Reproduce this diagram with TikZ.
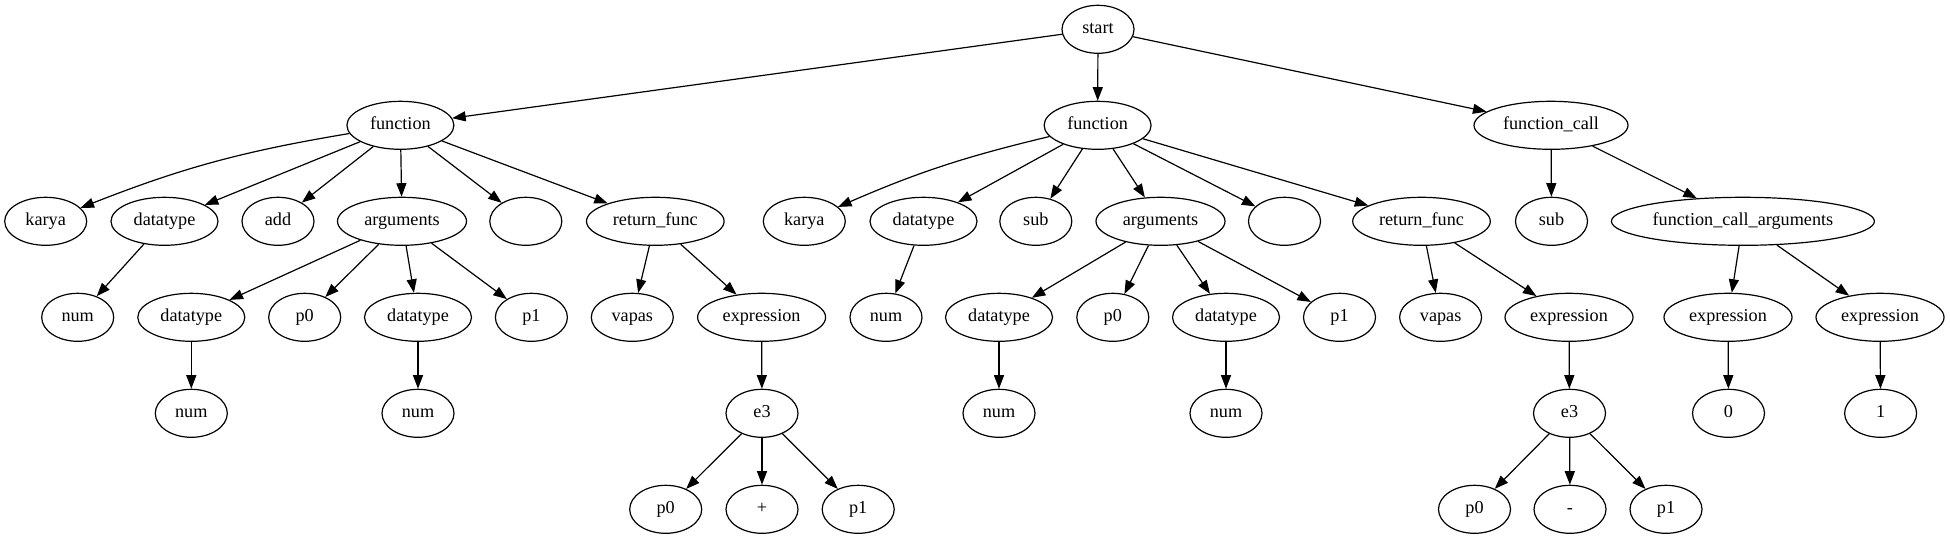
\documentclass[tikz,border=0pt]{standalone}
\usepackage{fontspec}
\setmainfont{Liberation Serif}
\usetikzlibrary{arrows.meta,shapes.geometric}
\begin{document}
\begin{tikzpicture}[x=1pt,y=-1pt,
  nd/.style={draw,ellipse,line width=1.2pt,inner sep=0pt,minimum height=48pt,minimum width=72pt,
    font=\fontsize{18.2}{20}\selectfont,text height=12.6pt,text depth=4.5pt},
  w/.style={minimum width=#1pt},
  ed/.style={draw,line width=1.2pt,-{Triangle[length=13.5pt,width=10pt]}},
  every path/.style={}]
\useasboundingbox (0,0) rectangle (1950,539);
% rows
\def\ra{29.3}\def\rb{125.3}\def\rc{221.3}\def\rd{317.3}\def\re{413.3}\def\rf{509.3}
% row 0
\node[nd] (start) at (1098,\ra) {start};
% row 1
\node[nd,w=107] (f1) at (400.4,\rb) {function};
\node[nd,w=107] (f2) at (1097.6,\rb) {function};
\node[nd,w=154] (fc) at (1551,\rb) {function\_call};
% row 2
\node[nd,w=82] (ka1) at (45.7,\rc) {karya};
\node[nd,w=107] (dt1) at (164.5,\rc) {datatype};
\node[nd] (add) at (278,\rc) {add};
\node[nd,w=129] (ar1) at (402,\rc) {arguments};
\node[nd] (em1) at (525.8,\rc) {};
\node[nd,w=137.6] (rf1) at (655.3,\rc) {return\_func};
\node[nd,w=82] (ka2) at (804.3,\rc) {karya};
\node[nd,w=107] (dt2) at (923.5,\rc) {datatype};
\node[nd] (sub2) at (1035.8,\rc) {sub};
\node[nd,w=129] (ar2) at (1160.5,\rc) {arguments};
\node[nd] (em2) at (1284.5,\rc) {};
\node[nd,w=137.6] (rf2) at (1421.5,\rc) {return\_func};
\node[nd] (sub3) at (1551.5,\rc) {sub};
\node[nd,w=263] (fca) at (1742.9,\rc) {function\_call\_arguments};
% row 3
\node[nd] (num1) at (77.7,\rd) {num};
\node[nd,w=107] (dt1a) at (191.3,\rd) {datatype};
\node[nd] (p0a) at (304.7,\rd) {p0};
\node[nd,w=107] (dt1b) at (418,\rd) {datatype};
\node[nd] (p1a) at (531.4,\rd) {p1};
\node[nd,w=82] (va1) at (632.3,\rd) {vapas};
\node[nd,w=128] (ex1) at (761.6,\rd) {expression};
\node[nd] (num2) at (886,\rd) {num};
\node[nd,w=107] (dt2a) at (999,\rd) {datatype};
\node[nd] (p0b) at (1112.8,\rd) {p0};
\node[nd,w=107] (dt2b) at (1226,\rd) {datatype};
\node[nd] (p1b) at (1339.5,\rd) {p1};
\node[nd,w=82] (va2) at (1440.6,\rd) {vapas};
\node[nd,w=128] (ex2) at (1569,\rd) {expression};
\node[nd,w=128] (ex3) at (1728,\rd) {expression};
\node[nd,w=128] (ex4) at (1880,\rd) {expression};
% row 4
\node[nd] (n1a) at (191.3,\re) {num};
\node[nd] (n1b) at (418,\re) {num};
\node[nd] (e3a) at (762,\re) {e3};
\node[nd] (n2a) at (999,\re) {num};
\node[nd] (n2b) at (1226,\re) {num};
\node[nd] (e3b) at (1569.5,\re) {e3};
\node[nd] (zero) at (1728.5,\re) {0};
\node[nd] (one) at (1880.6,\re) {1};
% row 5
\node[nd] (p0c) at (665.7,\rf) {p0};
\node[nd] (plus) at (762,\rf) {+};
\node[nd] (p1c) at (858.2,\rf) {p1};
\node[nd] (p0d) at (1474.5,\rf) {p0};
\node[nd] (minus) at (1570,\rf) {-};
\node[nd] (p1d) at (1666,\rf) {p1};
% edges
\path[ed] (start) -- (f1);
\path[ed] (start) -- (f2);
\path[ed] (start) -- (fc);
\path[ed] (f1) to[bend right=6] (ka1);
\path[ed] (f1) -- (dt1);
\path[ed] (f1) -- (add);
\path[ed] (f1) -- (ar1);
\path[ed] (f1) -- (em1);
\path[ed] (f1) -- (rf1);
\path[ed] (dt1) -- (num1);
\path[ed] (ar1) -- (dt1a);
\path[ed] (ar1) -- (p0a);
\path[ed] (ar1) -- (dt1b);
\path[ed] (ar1) -- (p1a);
\path[ed] (dt1a) -- (n1a);
\path[ed] (dt1b) -- (n1b);
\path[ed] (rf1) -- (va1);
\path[ed] (rf1) -- (ex1);
\path[ed] (ex1) -- (e3a);
\path[ed] (e3a) -- (p0c);
\path[ed] (e3a) -- (plus);
\path[ed] (e3a) -- (p1c);
\path[ed] (f2) to[bend right=5] (ka2);
\path[ed] (f2) -- (dt2);
\path[ed] (f2) -- (sub2);
\path[ed] (f2) -- (ar2);
\path[ed] (f2) -- (em2);
\path[ed] (f2) -- (rf2);
\path[ed] (dt2) -- (num2);
\path[ed] (ar2) -- (dt2a);
\path[ed] (ar2) -- (p0b);
\path[ed] (ar2) -- (dt2b);
\path[ed] (ar2) -- (p1b);
\path[ed] (dt2a) -- (n2a);
\path[ed] (dt2b) -- (n2b);
\path[ed] (rf2) -- (va2);
\path[ed] (rf2) -- (ex2);
\path[ed] (ex2) -- (e3b);
\path[ed] (e3b) -- (p0d);
\path[ed] (e3b) -- (minus);
\path[ed] (e3b) -- (p1d);
\path[ed] (fc) -- (sub3);
\path[ed] (fc) -- (fca);
\path[ed] (fca) -- (ex3);
\path[ed] (fca) -- (ex4);
\path[ed] (ex3) -- (zero);
\path[ed] (ex4) -- (one);
\end{tikzpicture}
\end{document}
